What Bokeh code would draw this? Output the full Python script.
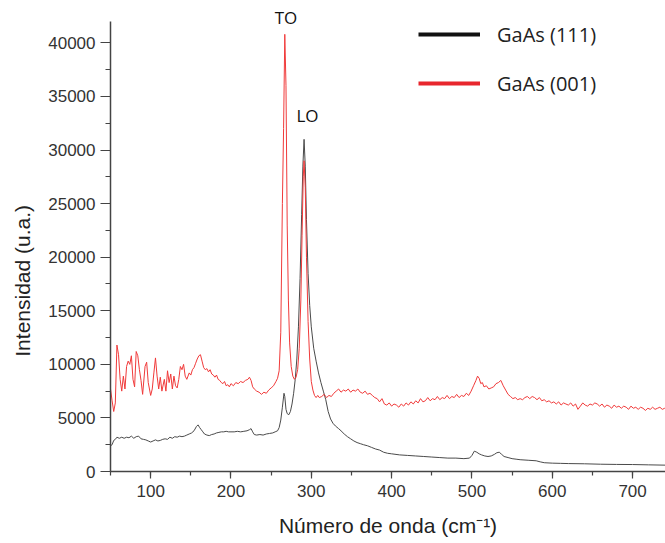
from bokeh.plotting import figure
from bokeh.models import Range1d, SingleIntervalTicker, Legend, LegendItem, Label
from bokeh.embed import file_html
from bokeh.resources import INLINE

# ---- data ----
wn_001 = [50, 52, 54, 56, 58, 60, 62, 64, 66, 68, 70, 72, 74, 76, 78, 80, 82, 84, 86, 88,
          90, 93, 95, 97, 100, 102, 104, 106, 108, 110, 112, 114, 117, 119, 121, 123, 125, 127, 129, 131,
          133, 135, 137, 139, 141, 143, 145, 148, 150, 152, 154, 156, 158, 160, 162, 164, 166, 168, 170, 172,
          174, 176, 178, 180, 182, 184, 186, 188, 190, 192, 194, 196, 198, 200, 203, 206, 209, 212, 215, 218,
          221, 223, 225, 227, 229, 232, 235, 238, 241, 244, 247, 250, 253, 256, 258, 260, 262, 264, 265.5, 267,
          268.5, 270, 271.5, 273, 275, 277, 279, 281, 283, 285, 287, 288.5, 290, 291, 292.5, 294, 296, 298, 300, 302,
          304, 306, 308, 310, 313, 316, 319, 322, 325, 328, 331, 334, 337, 340, 343, 346, 349, 352, 355, 358,
          361, 364, 367, 370, 373, 376, 379, 382, 385, 388, 391, 394, 397, 400, 403, 406, 409, 412, 415, 418,
          421, 424, 427, 430, 433, 436, 439, 442, 445, 448, 451, 454, 457, 460, 463, 466, 469, 472, 475, 478,
          481, 484, 487, 490, 493, 496, 499, 502, 505, 507, 509, 511, 513, 515, 518, 521, 524, 527, 530, 533,
          536, 539, 542, 545, 548, 551, 554, 557, 560, 563, 566, 569, 572, 575, 578, 581, 584, 587, 590, 593,
          596, 599, 602, 605, 608, 611, 614, 617, 620, 623, 626, 629, 632, 635, 638, 641, 644, 647, 650, 653,
          656, 659, 662, 665, 668, 671, 674, 677, 680, 683, 686, 689, 692, 695, 698, 701, 704, 707, 710, 713,
          716, 719, 722, 725, 728, 731, 734, 737, 740, 743]
int_001 = [7700, 6600, 5600, 6400, 11800, 10900, 8600, 7500, 8900, 7700, 9800, 10300, 10000, 10800, 8600, 7900, 11200, 10800, 9500, 8500,
           7200, 9800, 10200, 8300, 7100, 7700, 9200, 10600, 8900, 7700, 8800, 7500, 8600, 7500, 9400, 8300, 9100, 7700, 8900, 8000,
           7800, 8600, 9800, 9500, 10000, 8900, 8600, 9200, 9000, 9500, 9700, 10100, 10500, 10800, 10900, 10300, 9700, 9500, 9600, 9300,
           9500, 9100, 9000, 8800, 9000, 8600, 8500, 8300, 8200, 8400, 8000, 8100, 7900, 8200, 8000, 8300, 8200, 8400, 8300, 8500,
           8600, 8800, 8500, 7900, 7700, 7500, 7400, 7200, 7400, 7300, 7600, 7800, 8000, 8400, 8700, 9400, 13000, 25000, 32000, 40800,
           36000, 23000, 16000, 12000, 9800, 8900, 8600, 8800, 9500, 11500, 16000, 22000, 27500, 29000, 26500, 20000, 14000, 10500, 8400, 7600,
           7100, 6900, 7100, 6900, 7000, 7200, 6900, 7100, 7000, 7300, 7500, 7700, 7400, 7600, 7500, 7700, 7400, 7600, 7500, 7700,
           7400, 7300, 7500, 7200, 7300, 7100, 6900, 6800, 6500, 6800, 6300, 6200, 6400, 6100, 6300, 6200, 6000, 6300, 6100, 6400,
           6200, 6500, 6300, 6600, 6400, 6800, 6500, 6600, 6900, 6600, 6800, 6700, 7000, 6700, 6900, 6800, 7100, 6800, 7000, 6900,
           7200, 6900, 7100, 7000, 7300, 7100, 7500, 8000, 8500, 8900, 8700, 8200, 8300, 7900, 8000, 7700, 7800, 7900, 8200, 8300,
           8500, 8000, 7600, 7200, 7000, 6800, 6900, 6700, 6800, 6700, 6900, 7000, 6800, 7000, 6900, 6700, 6900, 6600, 6700, 6500,
           6600, 6400, 6500, 6300, 6500, 6200, 6400, 6300, 6200, 6400, 6100, 6300, 5800, 6100, 6400, 6200, 6100, 6300, 6200, 6400,
           6300, 6100, 6300, 6000, 6200, 6100, 5900, 6200, 6000, 6100, 5900, 6100, 6000, 5800, 6100, 5900, 6000, 5800, 6000, 5900,
           5700, 5900, 5800, 6000, 5800, 5900, 6000, 5800, 5900, 5850]

wn_111 = [50, 52, 54, 56, 58, 61, 64, 67, 70, 73, 76, 79, 82, 85, 88, 91, 94, 97, 100, 103,
          106, 109, 112, 115, 118, 121, 124, 127, 130, 133, 136, 139, 142, 145, 148, 151, 154, 157, 159, 161,
          163, 165, 167, 170, 173, 176, 179, 182, 185, 188, 191, 194, 197, 200, 204, 208, 212, 216, 220, 223,
          225, 227, 229, 232, 236, 240, 244, 248, 252, 255, 258, 260, 262, 264, 266, 267, 268.5, 270, 272, 274,
          276, 278, 280, 282, 284, 286, 288, 289.5, 291, 292.5, 294, 296, 298, 300, 303, 306, 309, 312, 315, 318,
          321, 324, 327, 330, 334, 337, 341, 345, 349, 353, 357, 361, 365, 370, 375, 380, 385, 390, 395, 400,
          410, 420, 430, 440, 450, 460, 470, 480, 490, 497, 500, 503, 506, 509, 512, 516, 520, 524, 528, 531,
          534, 537, 540, 545, 550, 555, 560, 570, 580, 585, 590, 600, 610, 620, 640, 660, 680, 700, 720, 743]
int_111 = [2400, 2500, 2900, 3000, 3200, 3100, 3200, 3100, 3200, 3150, 3300, 3100, 3250, 3300, 3050, 3000, 2950, 2850, 2750, 2850,
           2950, 2850, 2900, 3000, 3050, 3000, 3200, 3100, 3250, 3200, 3300, 3250, 3300, 3400, 3500, 3600, 3800, 4200, 4350, 4100,
           3900, 3700, 3500, 3400, 3350, 3450, 3500, 3600, 3650, 3700, 3700, 3750, 3700, 3700, 3700, 3750, 3700, 3750, 3800, 3900,
           4000, 3700, 3450, 3400, 3450, 3400, 3500, 3550, 3600, 3700, 3800, 4100, 4800, 6000, 7300, 7000, 5800, 5400, 5300, 5600,
           6300, 7300, 8600, 10500, 13500, 18000, 24000, 28500, 31000, 28500, 23500, 18500, 15500, 13500, 11500, 10300, 9200, 8300, 7500, 6700,
           5600, 4900, 4500, 4250, 4000, 3800, 3500, 3250, 3050, 2850, 2700, 2600, 2500, 2400, 2250, 2100, 2000, 1800, 1700, 1650,
           1550, 1500, 1450, 1400, 1350, 1300, 1250, 1250, 1200, 1250, 1500, 1900, 1800, 1650, 1550, 1450, 1400, 1450, 1600, 1750,
           1800, 1600, 1400, 1300, 1200, 1150, 1100, 1050, 1000, 900, 820, 780, 760, 740, 720, 680, 660, 650, 620, 590]

series_labels = ["GaAs (111)", "GaAs (001)"]
peak_labels = ["TO", "LO"]
peak_pos = [(268.5, 42400), (295.3, 33250)]

x_label = "Número de onda (cm⁻¹)"
y_label = "Intensidad (u.a.)" + "\u00a0" * 14

# ---- figure ----
p = figure(width=665, height=543, output_backend="svg", toolbar_location=None,
           x_range=Range1d(50, 741), y_range=Range1d(0, 43210),
           min_border_left=110, min_border_right=0, min_border_top=8, min_border_bottom=72)
p.outline_line_color = None
p.xgrid.visible = False
p.ygrid.visible = False
p.background_fill_color = "white"
p.border_fill_color = "white"

p.line(wn_111, int_111, line_color="#4a4a4a", line_width=1)
p.line(wn_001, int_001, line_color="#f03a3a", line_width=1)

for ax in (p.xaxis[0], p.yaxis[0]):
    ax.axis_line_color = "#444444"
    ax.axis_line_width = 1.5
    ax.major_tick_line_color = "#444444"
    ax.minor_tick_line_color = "#444444"
    ax.major_tick_line_width = 1.2
    ax.minor_tick_line_width = 1.2
    ax.major_tick_in = 0
    ax.minor_tick_in = 0
    ax.major_label_text_font = "Liberation Sans"
    ax.major_label_text_font_size = "17px"
    ax.major_label_text_color = "#333333"
    ax.axis_label_text_font = "Liberation Sans"
    ax.axis_label_text_font_size = "21px"
    ax.axis_label_text_font_style = "normal"
    ax.axis_label_text_color = "#222222"

p.xaxis[0].ticker = SingleIntervalTicker(interval=100, num_minor_ticks=2)
p.yaxis[0].ticker = SingleIntervalTicker(interval=5000, num_minor_ticks=2)
p.yaxis[0].bounds = (0, 42000)
p.xaxis[0].major_tick_out = 7
p.xaxis[0].minor_tick_out = 4
p.yaxis[0].major_tick_out = 10
p.yaxis[0].minor_tick_out = 5
p.xaxis[0].major_label_standoff = 6
p.yaxis[0].major_label_standoff = 5
p.xaxis[0].axis_label = x_label
p.yaxis[0].axis_label = y_label
p.xaxis[0].axis_label_standoff = 14
p.yaxis[0].axis_label_standoff = 11

# legend with thick sample lines (drawn on a hidden range so only the legend shows them)
p.extra_y_ranges = {"hidden": Range1d(1e6, 2e6)}
d1 = p.line(wn_111, int_111, line_color="#111111", line_width=4, y_range_name="hidden")
d2 = p.line(wn_001, int_001, line_color="#e8262d", line_width=4, y_range_name="hidden")
legend = Legend(items=[LegendItem(label=series_labels[0], renderers=[d1]),
                       LegendItem(label=series_labels[1], renderers=[d2])],
                location=(308, 374), glyph_width=62, glyph_height=28, label_height=28,
                label_standoff=17, spacing=21, padding=0, margin=0,
                border_line_color=None, background_fill_alpha=0,
                label_text_font="Open Sans", label_text_font_size="20px",
                label_text_color="#222222")
p.add_layout(legend)

for txt, (lx, ly) in zip(peak_labels, peak_pos):
    p.add_layout(Label(x=lx, y=ly, text=txt, text_align="center", text_baseline="alphabetic",
                       text_font="Open Sans", text_font_size="17px", text_color="#111111"))

open("out.html", "w").write(file_html(p, INLINE))
